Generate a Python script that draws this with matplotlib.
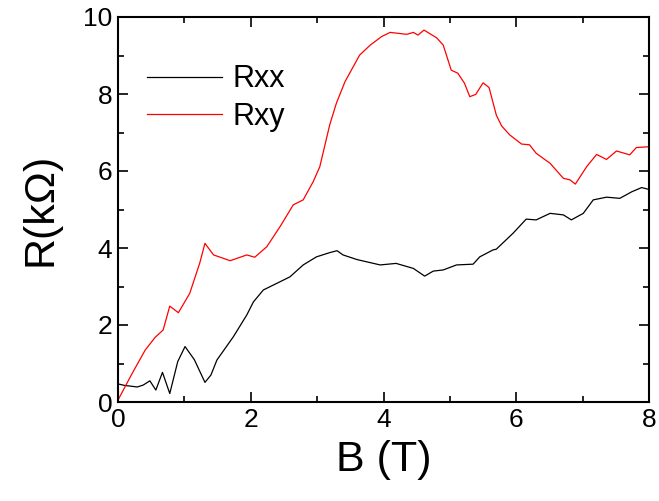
import matplotlib
matplotlib.use("Agg")
import matplotlib.pyplot as plt
from matplotlib.ticker import MultipleLocator

plt.rcParams["font.family"] = ["Liberation Sans", "DejaVu Sans"]

# Rxx (black)
b_xx = [0.0, 0.1, 0.2, 0.29, 0.38, 0.48, 0.57, 0.67, 0.78, 0.9, 1.01, 1.15, 1.31,
        1.4, 1.49, 1.74, 1.94, 2.04, 2.19, 2.39, 2.59, 2.79, 2.99, 3.19, 3.3,
        3.39, 3.6, 3.8, 3.95, 4.19, 4.45, 4.62, 4.75, 4.9, 5.1, 5.35, 5.45,
        5.65, 5.7, 5.95, 6.15, 6.3, 6.51, 6.71, 6.83, 7.01, 7.16, 7.36, 7.56,
        7.74, 7.89, 8.0]
r_xx = [0.47, 0.43, 0.41, 0.39, 0.44, 0.55, 0.31, 0.77, 0.22, 1.05, 1.44, 1.1, 0.51,
        0.7, 1.09, 1.7, 2.26, 2.6, 2.91, 3.08, 3.25, 3.56, 3.77, 3.88, 3.93,
        3.82, 3.7, 3.62, 3.56, 3.6, 3.47, 3.27, 3.4, 3.43, 3.56, 3.58, 3.77,
        3.95, 3.97, 4.38, 4.75, 4.73, 4.9, 4.86, 4.73, 4.9, 5.25, 5.32, 5.29,
        5.46, 5.57, 5.52]

# Rxy (red)
b_xy = [0.0, 0.2, 0.41, 0.56, 0.68, 0.78, 0.91, 1.08, 1.23, 1.31, 1.44, 1.69,
        1.94, 2.06, 2.24, 2.44, 2.64, 2.79, 2.94, 3.04, 3.19, 3.29, 3.42, 3.64,
        3.8, 3.97, 4.1, 4.35, 4.45, 4.52, 4.61, 4.8, 4.9, 5.02, 5.12, 5.22,
        5.3, 5.39, 5.5, 5.59, 5.7, 5.78, 5.9, 6.08, 6.2, 6.3, 6.51, 6.71,
        6.81, 6.89, 7.06, 7.21, 7.36, 7.51, 7.71, 7.81, 8.0]
r_xy = [0.05, 0.7, 1.35, 1.68, 1.87, 2.49, 2.32, 2.82, 3.6, 4.12, 3.82, 3.67,
        3.82, 3.76, 4.03, 4.55, 5.12, 5.25, 5.72, 6.11, 7.2, 7.76, 8.32, 9.01,
        9.27, 9.49, 9.6, 9.55, 9.6, 9.53, 9.66, 9.46, 9.27, 8.62, 8.54, 8.28,
        7.93, 7.99, 8.29, 8.17, 7.45, 7.17, 6.94, 6.7, 6.68, 6.46, 6.2, 5.81,
        5.77, 5.66, 6.11, 6.43, 6.3, 6.52, 6.42, 6.61, 6.63]

fig = plt.figure(figsize=(6.59, 5.01), dpi=100)
ax = fig.add_axes([118 / 659, 99 / 501, 531 / 659, 385 / 501])

ax.plot(b_xx, r_xx, color="black", lw=0.9, label="Rxx")
ax.plot(b_xy, r_xy, color="#ff0000", lw=0.9, label="Rxy")

ax.set_xlim(0, 8)
ax.set_ylim(0, 10)
ax.xaxis.set_major_locator(MultipleLocator(2))
ax.xaxis.set_minor_locator(MultipleLocator(1))
ax.yaxis.set_major_locator(MultipleLocator(2))
ax.yaxis.set_minor_locator(MultipleLocator(1))
ax.tick_params(which="both", direction="in", top=True, right=True, width=1.2, labelsize=19, pad=4)
ax.tick_params(which="major", length=7)
ax.tick_params(which="minor", length=4)
for s in ax.spines.values():
    s.set_linewidth(1.5)

ax.set_xlabel("B (T)", fontsize=31, labelpad=6)
ax.set_ylabel("R(kΩ)", fontsize=31, labelpad=16)

ax.legend(loc="upper left", bbox_to_anchor=(0.055, 0.877), frameon=False, fontsize=22,
          handlelength=2.45, handletextpad=0.33, labelspacing=0.25, borderaxespad=0,
          borderpad=0)

fig.savefig("out.png", dpi=100)
